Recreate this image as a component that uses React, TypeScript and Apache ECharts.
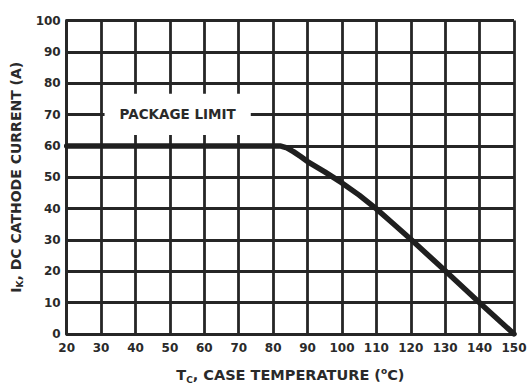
import React, { useEffect, useRef } from "react";
import * as echarts from "echarts";

const xTicks = [20, 30, 40, 50, 60, 70, 80, 90, 100, 110, 120, 130, 140, 150];
const yTicks = [0, 10, 20, 30, 40, 50, 60, 70, 80, 90, 100];
const tempC = [20, 82, 84, 86, 88, 90, 95, 100, 105, 110, 115, 120, 130, 140, 150];
const currentA = [60, 60, 59.4, 58.1, 56.6, 55, 51.7, 48.2, 44.3, 39.9, 35.1, 30.2, 20.2, 10, 0];
const packageLimitBox = [[31, 63.5], [73.5, 76.6]];
const packageLimitText = "PACKAGE LIMIT";

export default function App() {
  const ref = useRef<HTMLDivElement>(null);
  useEffect(() => {
    document.body.style.margin = "0";
    const chart = echarts.init(ref.current!, undefined, { renderer: "svg" });
    const ink = "#262626";
    const font = "DejaVu Sans";
    const gridLine = { lineStyle: { color: ink, width: 2.8 } };
    const axisLabel = {
      color: "#2a2a2a",
      fontFamily: font,
      fontWeight: "bold" as const,
      fontSize: 12,
    };
    const rich = {
      m: { fontFamily: font, fontWeight: "bold" as const, fontSize: 14.5, color: "#2a2a2a", lineHeight: 18 },
      s: { fontFamily: font, fontWeight: "bold" as const, fontSize: 9, color: "#2a2a2a", lineHeight: 10, verticalAlign: "bottom" as const },
      p: { fontFamily: font, fontWeight: "bold" as const, fontSize: 9, color: "#2a2a2a", lineHeight: 10, verticalAlign: "top" as const },
    };
    const yRich = {
      m: { ...rich.m, fontSize: 14 },
      s: rich.s,
      p: rich.p,
    };
    chart.setOption({
      animation: false,
      grid: { left: 66.7, right: 16, top: 20.5, bottom: 49 },
      xAxis: {
        type: "value",
        min: xTicks[0],
        max: xTicks[xTicks.length - 1],
        interval: 10,
        axisLine: { show: true, ...gridLine },
        axisTick: { show: false },
        splitLine: { show: true, ...gridLine },
        axisLabel: { ...axisLabel, margin: 8 },
        name: "{m|T}{s|C}{m|, CASE TEMPERATURE (}{p|o}{m|C)}",
        nameLocation: "middle",
        nameGap: 32,
        nameTextStyle: { rich },
      },
      yAxis: {
        type: "value",
        min: yTicks[0],
        max: yTicks[yTicks.length - 1],
        interval: 10,
        axisLine: { show: true, ...gridLine },
        axisTick: { show: false },
        splitLine: { show: true, ...gridLine },
        axisLabel: { ...axisLabel, margin: 6 },
        name: "{m|I}{s|K}{m|, DC CATHODE CURRENT (A)}",
        nameLocation: "middle",
        nameGap: 38,
        nameTextStyle: { rich: yRich },
      },
      series: [
        {
          type: "line",
          data: tempC.map((t, i) => [t, currentA[i]]),
          showSymbol: false,
          smooth: false,
          lineStyle: { color: "#1f1f1f", width: 5.5, cap: "round", join: "round" },
          markArea: {
            silent: true,
            itemStyle: { color: "#ffffff", opacity: 1 },
            label: {
              show: true,
              position: "inside",
              color: "#2a2a2a",
              fontFamily: font,
              fontWeight: "bold",
              fontSize: 13.5,
            },
            data: [
              [
                { name: packageLimitText, coord: packageLimitBox[0] },
                { coord: packageLimitBox[1] },
              ],
            ],
          },
        },
      ],
    });
    return () => chart.dispose();
  }, []);
  return <div ref={ref} style={{ width: 530, height: 389 }} />;
}
